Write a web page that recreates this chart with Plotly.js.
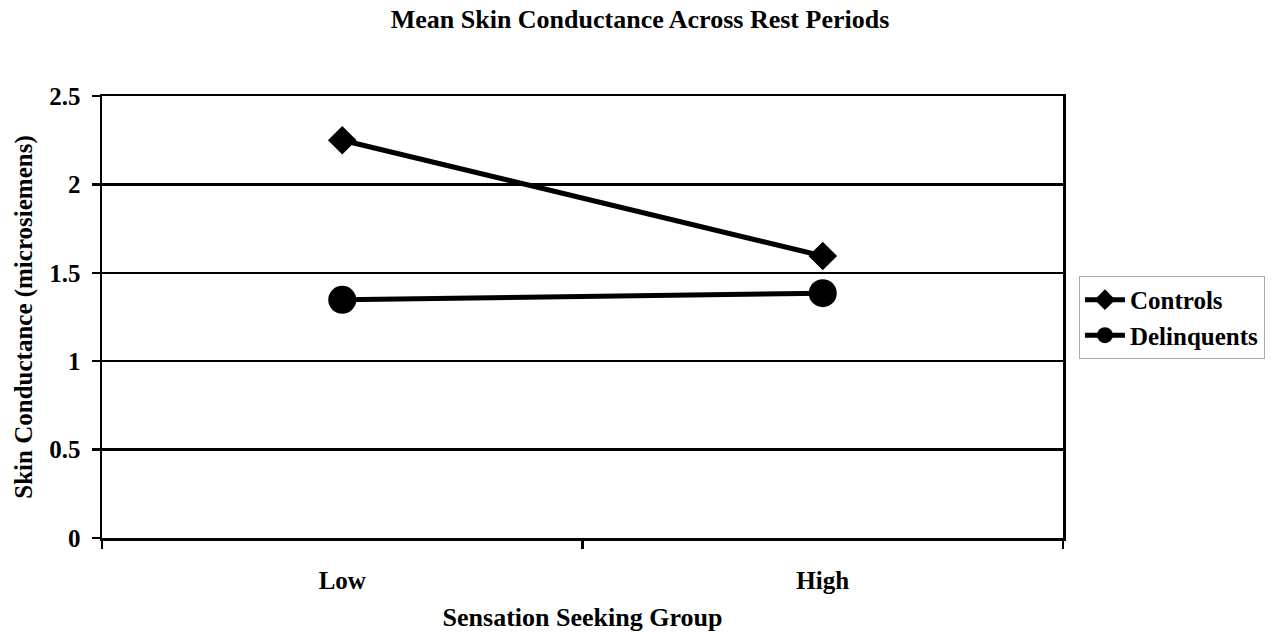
<!DOCTYPE html>
<html>
<head>
<meta charset="utf-8">
<script src="https://cdn.plot.ly/plotly-3.0.1.min.js"></script>
<style>html,body{margin:0;padding:0;background:#fff;}#chart{width:1280px;height:632px;}</style>
</head>
<body>
<div id="chart"></div>
<script>
const categories = ["Low", "High"];
const controls = [2.25, 1.595];
const delinquents = [1.347, 1.385];
const yTicks = [0, 0.5, 1, 1.5, 2, 2.5];

const F = "Liberation Serif, Times New Roman, serif";

const traces = [
  {
    x: categories, y: controls, name: "Controls", type: "scatter", mode: "lines+markers",
    line: {color: "#000", width: 5},
    marker: {symbol: "diamond", size: 22, color: "#000"}
  },
  {
    x: categories, y: delinquents, name: "Delinquents", type: "scatter", mode: "lines+markers",
    line: {color: "#000", width: 5},
    marker: {symbol: "circle", size: 28, color: "#000"}
  }
];

const layout = {
  width: 1280, height: 632,
  margin: {l: 102, r: 217, t: 96, b: 94},
  paper_bgcolor: "#fff", plot_bgcolor: "#fff",
  font: {family: F, color: "#000"},
  title: {
    text: "Mean Skin Conductance Across Rest Periods",
    font: {family: F, size: 26, weight: "bold", color: "#000"},
    x: 0.5, xref: "container", y: 0.97, yanchor: "middle"
  },
  xaxis: {
    type: "category", range: [-0.5, 1.5], tickson: "boundaries",
    showline: true, mirror: true, linecolor: "#000", linewidth: 2.5,
    ticks: "outside", ticklen: 8, tickwidth: 2.5, tickcolor: "#000",
    showgrid: false, zeroline: false,
    tickfont: {family: F, size: 25, weight: "bold"},
    ticklabelstandoff: 18,
    title: {text: "Sensation Seeking Group", font: {family: F, size: 26, weight: "bold"}, standoff: 20}
  },
  yaxis: {
    range: [0, 2.5], tickvals: yTicks, ticktext: yTicks.map(String),
    showline: true, mirror: true, linecolor: "#000", linewidth: 2.5,
    ticks: "outside", ticklen: 8, tickwidth: 2.5, tickcolor: "#000",
    showgrid: true, gridcolor: "#000", gridwidth: 2.5, zeroline: false,
    tickfont: {family: F, size: 25, weight: "bold"},
    ticklabelstandoff: 6,
    title: {text: "Skin Conductance (microsiemens)", font: {family: F, size: 25, weight: "bold"}, standoff: 10}
  },
  showlegend: true,
  legend: {
    x: 1.0166, xanchor: "left", y: 0.593, yanchor: "top",
    bordercolor: "#aaa", borderwidth: 1, bgcolor: "#fff",
    font: {family: F, size: 25, weight: "bold", color: "#000"},
    itemwidth: 40, tracegroupgap: 4
  }
};

Plotly.newPlot("chart", traces, layout, {displayModeBar: false, staticPlot: true});
</script>
</body>
</html>
